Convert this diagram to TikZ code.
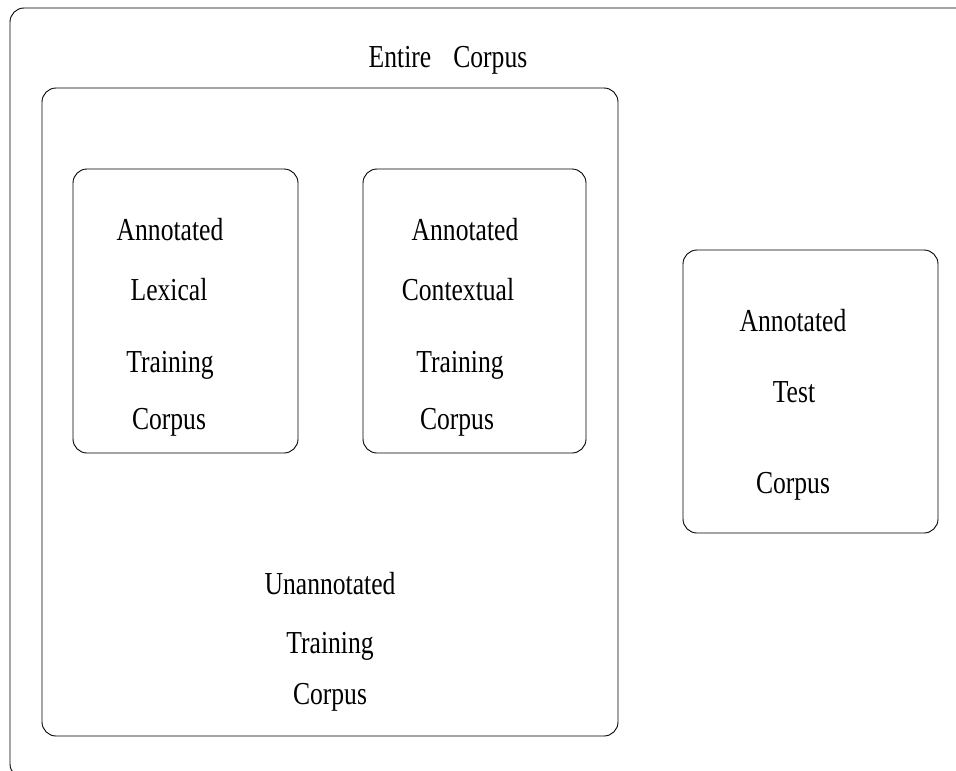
\documentclass[tikz,border=0pt]{standalone}
\usepackage{fontspec}
\setmainfont{Liberation Serif}[FakeStretch=0.8]
\begin{document}
\begin{tikzpicture}[x = 1pt, y = -1pt,
  box/.style = {draw, line width = 0.9pt, rounded corners = 14pt},
  word/.style = {anchor = base, inner sep = 0pt,
    font = \fontsize{32}{38}\selectfont}]
  \useasboundingbox (0, 0) rectangle (956, 771);
  \clip (0, 0) rectangle (956, 771);

  % the boxes
  \draw[box] (10, 8) rectangle (1000, 778);
  \draw[box] (42, 88) rectangle (618, 736);
  \draw[box] (73, 169) rectangle (298, 453);
  \draw[box] (363, 169) rectangle (586, 453);
  \draw[box] (683, 250) rectangle (938, 533);

  \node[word] (entire) at (448, 67) {Entire\hspace{22pt}Corpus};

  \node[word] (lexA) at (170, 240) {Annotated};
  \node[word] (lexB) at (169, 300) {Lexical};
  \node[word] (lexC) at (170, 372) {Training};
  \node[word] (lexD) at (169, 429) {Corpus};

  \node[word] (conA) at (465, 240) {Annotated};
  \node[word] (conB) at (458, 300) {Contextual};
  \node[word] (conC) at (460, 372) {Training};
  \node[word] (conD) at (457, 429) {Corpus};

  \node[word] (testA) at (793, 331) {Annotated};
  \node[word] (testB) at (794, 402) {Test};
  \node[word] (testC) at (793, 493) {Corpus};

  \node[word] (unA) at (330, 594) {Unannotated};
  \node[word] (unB) at (330, 653) {Training};
  \node[word] (unC) at (330, 704) {Corpus};
\end{tikzpicture}
\end{document}
